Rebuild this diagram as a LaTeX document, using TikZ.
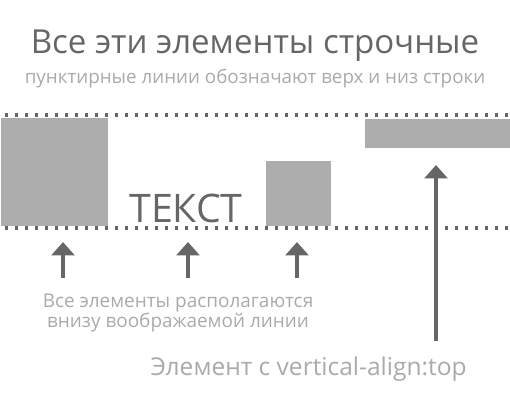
\documentclass[tikz,border=0pt]{standalone}
\usepackage{fontspec}
\setmainfont{Open Sans}
\usetikzlibrary{arrows.meta}
\definecolor{darkgr}{RGB}{102,102,102}
\definecolor{lightgr}{RGB}{170,170,170}
\definecolor{boxgr}{RGB}{173,173,173}
\tikzset{every picture/.style={line width=0.75pt}}
\tikzset{
	elem/.style={fill=boxgr, draw=none},
	dotline/.style={draw=darkgr, line width=2.4pt, dash pattern=on 2.4pt off 5.1pt},
	uparrow/.style={draw=darkgr, line width=3pt, -{Triangle[width=17pt,length=10pt]}},
}

\begin{document}
\begin{tikzpicture}[x=0.75pt,y=0.75pt,yscale=-1,xscale=1]
	\path[use as bounding box] (0,0) rectangle (510,400);

	% Text Node
	\node[anchor=base, text=darkgr, font=\fontsize{24.8}{30}\selectfont] (title) at (255,53) {Все эти элементы строчные};
	% Text Node
	\node[anchor=base, text=lightgr, font=\fontsize{14.1}{17}\selectfont] (subtitle) at (255,83) {пунктирные линии обозначают верх и низ строки};

	%Straight Lines (top and bottom of the line)
	\draw [dotline] (5,115) -- (510,115) ;
	\draw [dotline] (5,228) -- (510,228) ;

	%Shape: Rectangle
	\node[elem, anchor=north west, minimum width=107*0.75pt, minimum height=108*0.75pt, inner sep=0] (big) at (0,117) {};
	% Text Node
	\node[anchor=base, text=darkgr, font=\fontsize{29.5}{34}\selectfont, inner sep=0] (word) at (186,222) {ТЕКСТ};
	%Shape: Rectangle
	\node[elem, anchor=north west, minimum width=65*0.75pt, minimum height=65*0.75pt, inner sep=0] (small) at (265,160) {};
	%Shape: Rectangle
	\node[elem, anchor=north west, minimum width=146*0.75pt, minimum height=29*0.75pt, inner sep=0] (top) at (364,118) {};

	% arrow ends
	\coordinate (a1) at (63,278);
	\coordinate (a1t) at (63,242);
	\coordinate (a2) at (188,278);
	\coordinate (a2t) at (188,242);
	\coordinate (a3) at (297,278);
	\coordinate (a3t) at (297,242);
	\coordinate (a4) at (436,341);
	\coordinate (a4t) at (436,165);

	%Straight Lines
	\draw [uparrow] (a1) -- (a1t) ;
	\draw [uparrow] (a2) -- (a2t) ;
	\draw [uparrow] (a3) -- (a3t) ;
	\draw [uparrow] (a4) -- (a4t) ;

	% Text Node
	\node[anchor=base, text=lightgr, font=\fontsize{14.2}{17}\selectfont] (note1) at (178,307) {Все элементы располагаются};
	% Text Node
	\node[anchor=base, text=lightgr, font=\fontsize{14.2}{17}\selectfont] (note2) at (178,327) {внизу воображаемой линии};
	% Text Node
	\node[anchor=base west, text=lightgr, font=\fontsize{18.4}{22}\selectfont, inner sep=0] (note3) at (150,375) {Элемент с vertical-align:top};

\end{tikzpicture}
\end{document}
